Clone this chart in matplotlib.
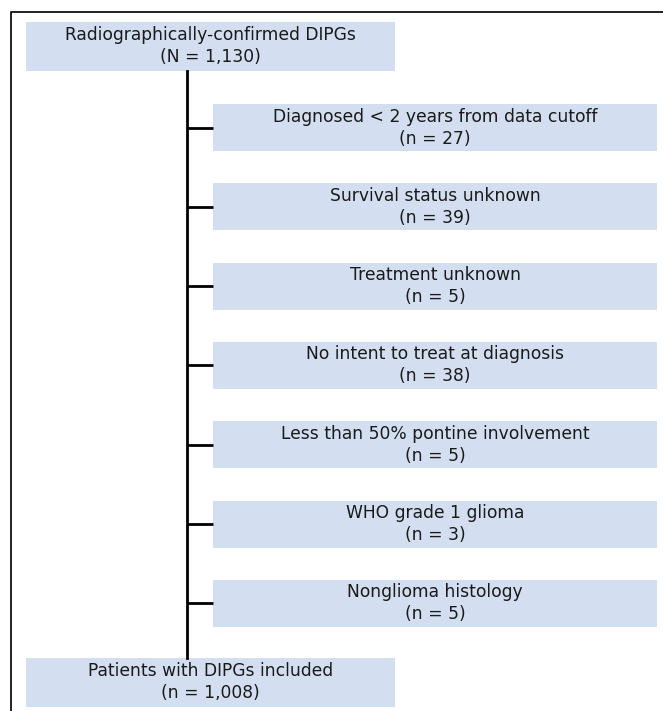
import matplotlib.pyplot as plt
from matplotlib.patches import Rectangle

top_label = "Radiographically-confirmed DIPGs"
top_n = "(N = 1,130)"
excluded_labels = [
    "Diagnosed < 2 years from data cutoff",
    "Survival status unknown",
    "Treatment unknown",
    "No intent to treat at diagnosis",
    "Less than 50% pontine involvement",
    "WHO grade 1 glioma",
    "Nonglioma histology",
]
excluded_n = [27, 39, 5, 38, 5, 3, 5]
final_label = "Patients with DIPGs included"
final_n = "(n = 1,008)"

box_color = "#d3dff1"
W, H = 663, 711

fig = plt.figure(figsize=(W / 100, H / 100), dpi=100)
ax = fig.add_axes([0, 0, 1, 1])
ax.set_xlim(0, W)
ax.set_ylim(H, 0)
ax.axis("off")

plt.rcParams["font.family"] = ["DejaVu Sans"]
fs = 12.3


def box(x0, y0, x1, y1, line1, line2):
    ax.add_patch(Rectangle((x0, y0), x1 - x0, y1 - y0, facecolor=box_color,
                           edgecolor="none", zorder=1))
    cx = (x0 + x1) / 2
    cy = (y0 + y1) / 2
    ax.text(cx, cy - 11, line1, ha="center", va="center", fontsize=fs,
            color="#1a1a1a", zorder=3)
    ax.text(cx, cy + 11, line2, ha="center", va="center", fontsize=fs,
            color="#1a1a1a", zorder=3)


# outer frame
ax.plot([11, 11, W + 5], [H + 5, 12, 12], color="#222222", lw=1.4,
        solid_capstyle="butt", zorder=0)

# main spine
spine_x = 187
ax.plot([spine_x, spine_x], [71, 658], color="black", lw=2.0, zorder=2)

box(26, 22, 395, 71, top_label, top_n)
box(26, 658, 395, 707, final_label, final_n)

for i, (lab, n) in enumerate(zip(excluded_labels, excluded_n)):
    y0 = 104 + 79.3 * i
    y1 = y0 + 47
    box(213, y0, 657, y1, lab, f"(n = {n})")
    ax.plot([spine_x, 213], [(y0 + y1) / 2] * 2, color="black", lw=2.0,
            solid_capstyle="butt", zorder=2)

fig.savefig("out.png", dpi=100)
